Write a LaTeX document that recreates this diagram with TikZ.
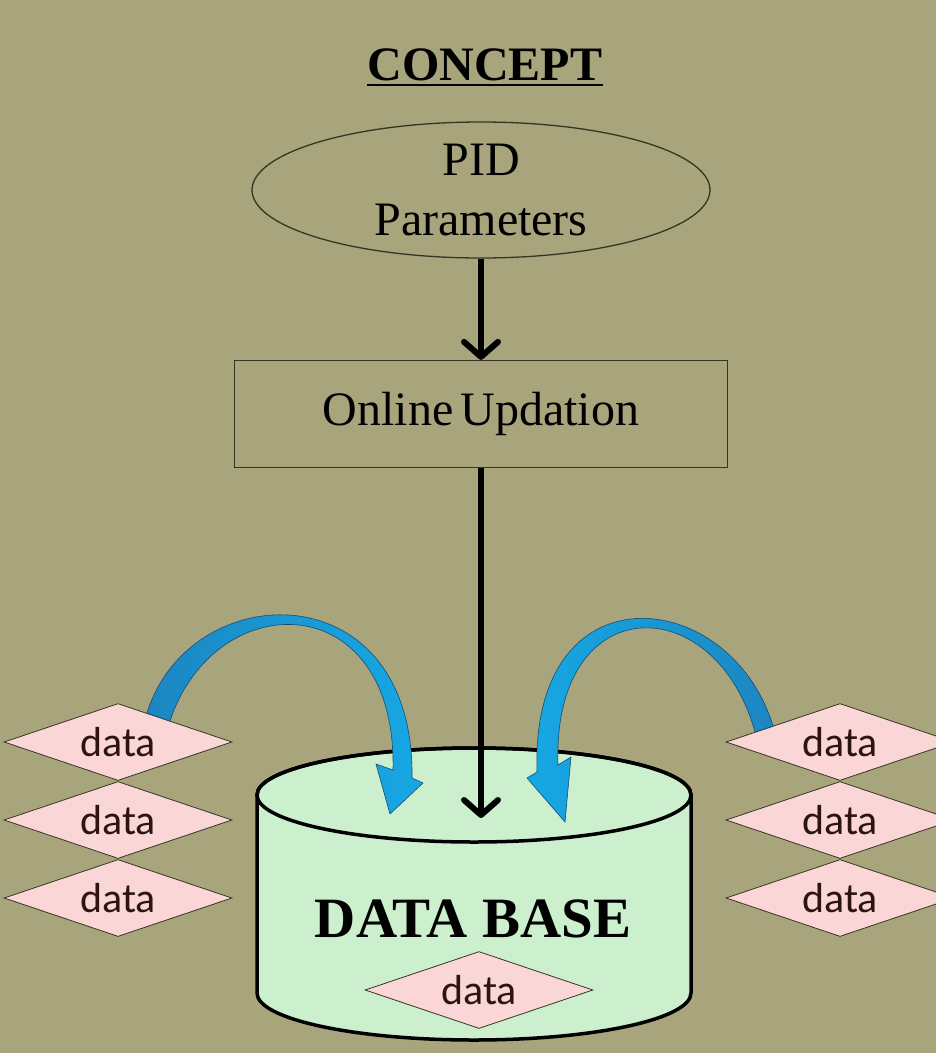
\documentclass[tikz,border=0pt]{standalone}
\usepackage{fontspec}
\setmainfont{Liberation Serif}
\newfontfamily\datafont{Carlito}
\usetikzlibrary{shapes.geometric,arrows.meta}
\definecolor{khaki}{RGB}{168,164,124}
\definecolor{dbgreen}{RGB}{204,240,206}
\definecolor{datapink}{RGB}{250,214,214}
\definecolor{datatext}{RGB}{45,20,20}
\definecolor{flowblue}{RGB}{22,168,228}
\definecolor{flowdark}{RGB}{28,134,194}
\definecolor{edgegray}{RGB}{55,52,36}
\begin{document}
\begin{tikzpicture}
[x=1pt,y=-1pt,
  datadecorate/.style={shape=diamond,draw=edgegray,line width=0.8pt,fill=datapink,
    minimum width=228pt,minimum height=77pt,inner sep=0pt,aspect=3,
    text=datatext,font=\datafont\fontsize{42}{50}\selectfont},
  boxdecorate/.style={draw=edgegray,line width=1.3pt,inner sep=0pt},
  labeldecorate/.style={font=\fontsize{48}{60}\selectfont,inner sep=0pt},
  arrowdecorate/.style={line width=6.5pt,line join=round,
    -{Straight Barb[length=15pt,width=34pt,line width=6pt 0,round]}},
  flowdecorate/.style={draw=flowdark!60!black,line width=0.6pt}]
\fill[khaki] (0,0) rectangle (936,1053);
\useasboundingbox (0,0) rectangle (936,1053);
%% title
\node (concept) at (485,80) [anchor=base,inner sep=0pt,
  font=\bfseries\fontsize{48}{56}\selectfont] {CONCEPT};
\draw[line width=2.2pt] ([yshift=-5pt]concept.base west) -- ([yshift=-5pt]concept.base east);
%% data base cylinder
\filldraw[fill=dbgreen,line width=3.5pt] (257,795) -- (257,993)
  arc[start angle=180,end angle=0,x radius=217,y radius=47] -- (691,795)
  arc[start angle=0,end angle=-180,x radius=217,y radius=47] -- cycle;
\draw[line width=3.5pt] (474,795) ellipse[x radius=217,y radius=47];
\node (dbname) at (473,937) [anchor=base,inner sep=0pt,
  font=\bfseries\fontsize{57}{60}\selectfont] {DATA BASE};
\coordinate (dbtop) at (481,818);
%% data items
\foreach \nodename/\x/\y in {dl1/118/742, dl2/118/820, dl3/118/898,
  dr1/840/742, dr2/840/820, dr3/840/898, dbin/479/990} {
  \node (\nodename) at (\x,\y) [datadecorate] {data};
}
%% curved blue arrows
\path[flowdecorate,left color=flowdark,right color=flowblue]
  (147,713) .. controls (190,575) and (415,570) .. (412,778)
  -- (423,783) -- (390,814) -- (376,764) -- (393,770)
  .. controls (397,585) and (215,585) .. (170,721) -- cycle;
\path[flowdecorate,left color=flowblue,right color=flowdark]
  (773,726) .. controls (730,585) and (530,565) .. (537,772)
  -- (527,778) -- (565,822) -- (571,757) -- (558,765)
  .. controls (552,588) and (715,588) .. (755,732) -- cycle;
%% PID and update
\node (pid) at (481,190) [shape=ellipse,boxdecorate,minimum width=458pt,minimum height=136pt] {};
\node at (pid) [labeldecorate,align=center] {PID\\Parameters};
\node (update) at (481,414) [shape=rectangle,boxdecorate,labeldecorate,
  minimum width=493pt,minimum height=107pt] {Online\hspace{0.15em}Updation};
%% edges
\draw[arrowdecorate] (pid) -- (update);
\draw[arrowdecorate] (update) -- (dbtop);
\end{tikzpicture}
\end{document}
